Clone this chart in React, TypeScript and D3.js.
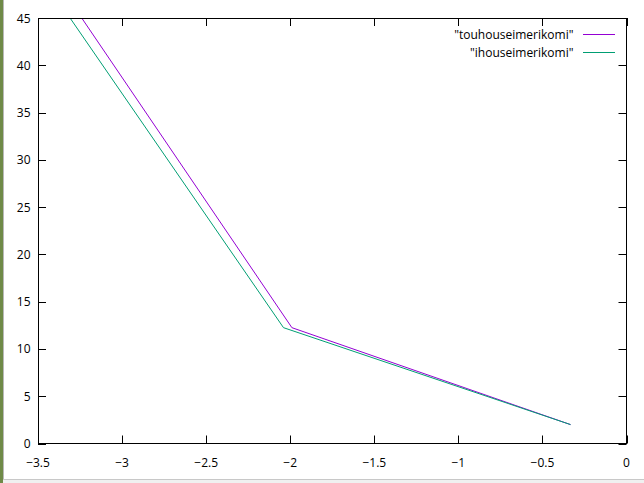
import React, { useEffect, useRef } from "react";
import * as d3 from "d3";

// series (points above 45 are clipped by the frame)
const seriesNames = ['"touhouseimerikomi"', '"ihouseimerikomi"'];
const seriesColors = ["#9400d3", "#009e73"];
const touhouX = [-3.99, -1.99, -0.333];
const touhouY = [64.65, 12.25, 2];
const ihouX = [-4.04, -2.04, -0.333];
const ihouY = [63.85, 12.25, 2];

const xTicks = [-3.5, -3, -2.5, -2, -1.5, -1, -0.5, 0];
const yTicks = [0, 5, 10, 15, 20, 25, 30, 35, 40, 45];

const W = 644;
const H = 483;
const FONT = "'Open Sans', sans-serif";

function App() {
  const ref = useRef<SVGSVGElement>(null);

  useEffect(() => {
    const svg = d3.select(ref.current);
    svg.selectAll("*").remove();

    const left = 38, right = 626.5, top = 18, bottom = 443.5;
    const x = d3.scaleLinear().domain([-3.5, 0]).range([left, right]);
    const y = d3.scaleLinear().domain([0, 45]).range([bottom, top]);

    svg.append("rect").attr("width", W).attr("height", H).attr("fill", "#fff");

    // window chrome bits at the edges
    svg.append("rect").attr("x", 0).attr("y", 0).attr("width", 3).attr("height", H).attr("fill", "#6f8a48");
    svg.append("rect").attr("x", 3).attr("y", 0).attr("width", 1).attr("height", H).attr("fill", "#b8b8b8");
    svg.append("rect").attr("x", 3).attr("y", 479).attr("width", W).attr("height", 4).attr("fill", "#f0f0f0");
    svg.append("rect").attr("x", 3).attr("y", 479).attr("width", W).attr("height", 1).attr("fill", "#c8c8c8");

    svg.append("clipPath").attr("id", "plotclip")
      .append("rect").attr("x", left).attr("y", top)
      .attr("width", right - left).attr("height", bottom - top);

    const line = d3.line<[number, number]>().x(d => x(d[0])).y(d => y(d[1]));
    const data: [number, number][][] = [
      touhouX.map((v, i) => [v, touhouY[i]] as [number, number]),
      ihouX.map((v, i) => [v, ihouY[i]] as [number, number]),
    ];

    const g = svg.append("g").attr("clip-path", "url(#plotclip)");
    data.forEach((d, i) => {
      g.append("path").attr("d", line(d)).attr("fill", "none")
        .attr("stroke", seriesColors[i]).attr("stroke-width", 1);
    });

    // ticks, mirrored on all sides
    const axis = svg.append("g").attr("stroke", "#000").attr("stroke-width", 1);
    xTicks.forEach(t => {
      const px = Math.round(x(t)) + 0.5;
      axis.append("line").attr("x1", px).attr("x2", px).attr("y1", bottom).attr("y2", bottom - 8);
      axis.append("line").attr("x1", px).attr("x2", px).attr("y1", top).attr("y2", top + 8);
    });
    yTicks.forEach(t => {
      const py = Math.round(y(t)) + 0.5;
      axis.append("line").attr("x1", left).attr("x2", left + 8).attr("y1", py).attr("y2", py);
      axis.append("line").attr("x1", right).attr("x2", right - 8).attr("y1", py).attr("y2", py);
    });

    svg.append("rect").attr("x", left + 0.5).attr("y", top + 0.5)
      .attr("width", right - left - 0.5).attr("height", bottom - top - 0.5)
      .attr("fill", "none").attr("stroke", "#000").attr("stroke-width", 1);

    const labels = svg.append("g").attr("font-family", FONT).attr("font-size", 12).attr("fill", "#000");
    xTicks.forEach(t => {
      labels.append("text").attr("x", x(t)).attr("y", 467).attr("text-anchor", "middle")
        .text(d3.format("")(t));
    });
    yTicks.forEach(t => {
      labels.append("text").attr("x", 30.5).attr("y", y(t) + 4.5).attr("text-anchor", "end")
        .text(String(t));
    });

    // legend
    seriesNames.forEach((name, i) => {
      const ly = 34 + i * 18;
      labels.append("text").attr("x", 573.5).attr("y", ly + 4.5).attr("text-anchor", "end").text(name);
      svg.append("line").attr("x1", 583).attr("x2", 615).attr("y1", ly + 0.5).attr("y2", ly + 0.5)
        .attr("stroke", seriesColors[i]).attr("stroke-width", 1);
    });
  }, []);

  return (
    <svg ref={ref} width={W} height={H}
      style={{ position: "fixed", left: 0, top: 0, display: "block" }} />
  );
}

export default App;
